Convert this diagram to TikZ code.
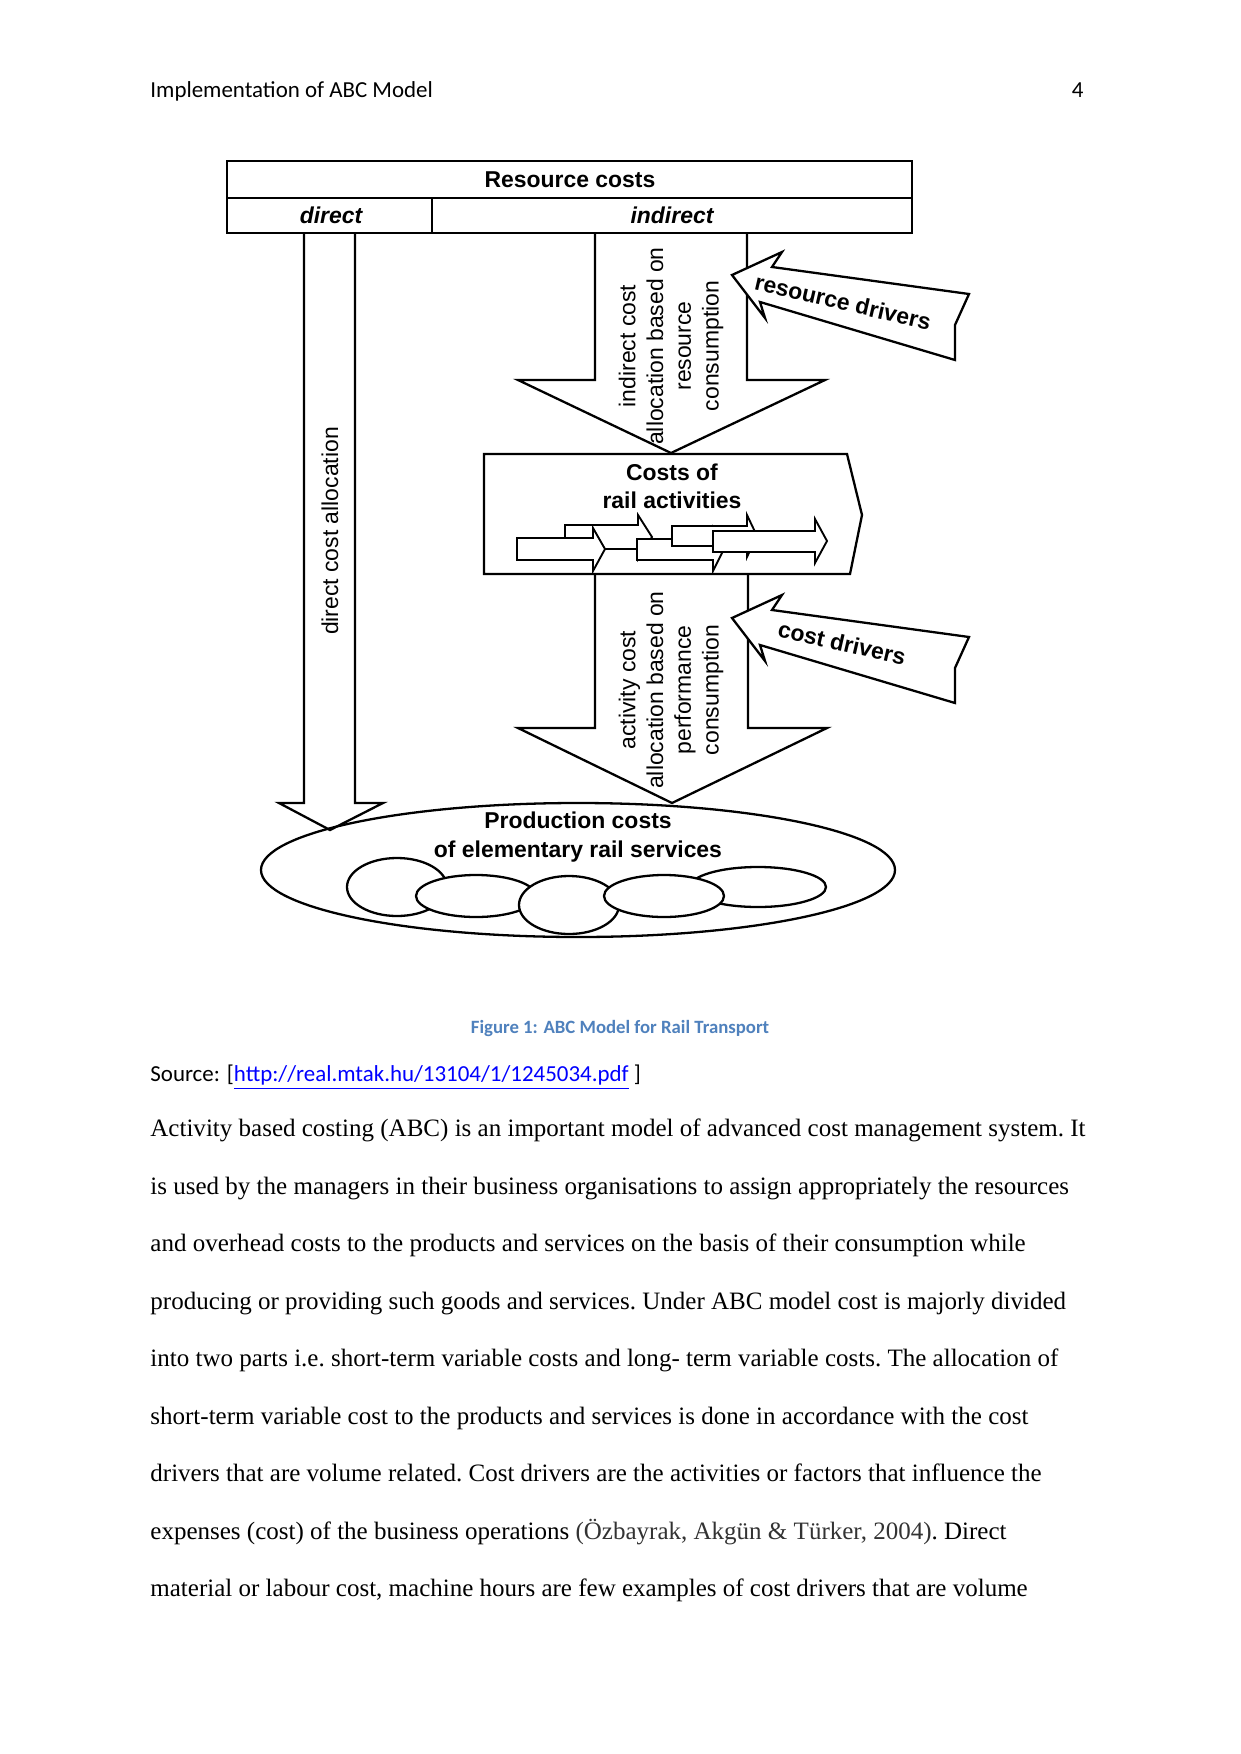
\documentclass[tikz,border=0pt]{standalone}
\usepackage{fontspec}
\setmainfont{Liberation Serif}
\newfontfamily\hdrfont{Carlito}
\newfontfamily\diafont{Liberation Sans}
\usetikzlibrary{positioning}
\definecolor{captionblue}{HTML}{4F81BD}
\definecolor{linkblue}{HTML}{0000FF}
\definecolor{citegray}{HTML}{333333}

\begin{document}
\begin{tikzpicture}[x=0.4797pt, y=-0.4797pt,
  blockline/.style={draw=black, line width=1.1pt, line join=miter},
  smallarrow/.style={draw=black, fill=white, line width=0.9pt},
  boxlabel/.style={font=\diafont\fontsize{11}{13}\selectfont\bfseries, inner sep=0pt},
  flowlabel/.style={font=\diafont\fontsize{11}{13.3}\selectfont, align=center, rotate=90, inner sep=0pt},
  drivertext/.style={font=\diafont\fontsize{11}{13}\selectfont\bfseries, rotate=-13, inner sep=0pt},
  bodyline/.style={anchor=base west, inner sep=0pt, font=\fontsize{12}{14}\selectfont\frenchspacing}]

\path[use as bounding box, fill=white] (0,0) rectangle (1241,1754);

% Page header
\node[anchor=base west, inner sep=0pt, font=\hdrfont\fontsize{11}{13}\selectfont] (header) at (150,97.5) {Implementation of ABC Model};
\node[anchor=base east, inner sep=0pt, font=\hdrfont\fontsize{11}{13}\selectfont] (pagenum) at (1084,97.5) {4};

% Resource costs table
\draw[blockline] (227,161) rectangle (912,233);
\draw[blockline] (227,198) -- (912,198);
\draw[blockline] (432,198) -- (432,233);
\node[boxlabel] (rescost) at (570,180) {Resource costs};
\node[boxlabel, font=\diafont\fontsize{11}{13}\selectfont\bfseries\itshape] (direct) at (331,215) {direct};
\node[boxlabel, font=\diafont\fontsize{11}{13}\selectfont\bfseries\itshape] (indirect) at (672,215) {indirect};

% Direct cost arrow
\draw[blockline] (304,233) -- (304,803) -- (279,803) -- (330,830) -- (383,803) -- (355,803) -- (355,233);
\node[flowlabel] (directlbl) at (330,531) {direct cost allocation};

% Indirect cost arrows
\draw[blockline] (595,233) -- (595,380) -- (518,380) -- (671,453) -- (825,380) -- (747,380) -- (747,233);
\draw[blockline] (595,574) -- (595,728) -- (518,728) -- (672,803) -- (827,728) -- (748,728) -- (748,574);

% Costs of rail activities
\draw[blockline, fill=white] (484,454) -- (847,454) -- (862,515) -- (850,574) -- (484,574) -- cycle;
\node[boxlabel, align=center, font=\diafont\fontsize{11}{13.5}\selectfont\bfseries] (railact) at (672,486) {Costs of\\rail activities};
\draw[smallarrow] (565,525) -- (638,525) -- (638,515) -- (652,537) -- (638,559) -- (638,549) -- (565,549) -- cycle;
\draw[smallarrow] (517,538) -- (593,538) -- (593,528) -- (605,549) -- (593,571) -- (593,560) -- (517,560) -- cycle;
\draw[smallarrow] (637,539) -- (713,539) -- (713,528) -- (724,549) -- (713,571) -- (713,560) -- (637,560) -- cycle;
\draw[smallarrow] (672,526) -- (747,526) -- (747,515) -- (757,536) -- (747,557) -- (747,546) -- (672,546) -- cycle;
\draw[smallarrow] (713,531) -- (815,531) -- (815,519) -- (827,541) -- (815,563) -- (815,552) -- (713,552) -- cycle;

% Production costs
\draw[blockline] (578,870) ellipse [x radius=317, y radius=67];
\draw[smallarrow, line width=1.1pt] (397,887) ellipse [x radius=50, y radius=29];
\draw[smallarrow, line width=1.1pt] (476,896) ellipse [x radius=60, y radius=21];
\draw[smallarrow, line width=1.1pt] (569,905) ellipse [x radius=50, y radius=29];
\draw[smallarrow, line width=1.1pt] (758,887) ellipse [x radius=68, y radius=20];
\draw[smallarrow, line width=1.1pt] (664,896) ellipse [x radius=60, y radius=21];
\node[boxlabel, align=center, font=\diafont\fontsize{11}{13.8}\selectfont\bfseries] (prodcost) at (578,837) {Production costs\\of elementary rail services};

% Driver arrows
\draw[blockline, fill=white] (732,275) -- (782,252) -- (772,267) -- (969,294) -- (955,325) -- (955,360) -- (760,302) -- (765,318) -- cycle;
\draw[blockline, fill=white] (732,618) -- (782,595) -- (772,610) -- (969,637) -- (955,668) -- (955,703) -- (760,645) -- (765,661) -- cycle;
\node[drivertext] (resdrv) at (843,302) {resource drivers};
\node[drivertext] (costdrv) at (842,643) {cost drivers};

% Allocation labels
\node[flowlabel] (indirectlbl) at (671,346) {indirect cost\\allocation based on\\resource\\consumption};
\node[flowlabel] (activitylbl) at (671,690) {activity cost\\allocation based on\\performance\\consumption};

% Caption and source
\node[anchor=base, inner sep=0pt, font=\hdrfont\fontsize{9}{11}\selectfont\bfseries, text=captionblue] (caption) at (620,1033.5) {Figure 1: ABC Model for Rail Transport};
\node[anchor=base west, inner sep=0pt, font=\hdrfont\fontsize{11}{13}\selectfont] (source) at (150,1081.5) {Source: [\textcolor{linkblue}{\underline{http://real.mtak.hu/13104/1/1245034.pdf}} ]};

% Body text
\node[bodyline] (line1) at (150,1136.5) {Activity based costing (ABC) is an important model of advanced cost management system. It};
\node[bodyline] (line2) at (150,1194) {is used by the managers in their business organisations to assign appropriately the resources};
\node[bodyline] (line3) at (150,1251.5) {and overhead costs to the products and services on the basis of their consumption while};
\node[bodyline] (line4) at (150,1309) {producing or providing such goods and services. Under ABC model cost is majorly divided};
\node[bodyline] (line5) at (150,1366.5) {into two parts i.e. short-term variable costs and long- term variable costs. The allocation of};
\node[bodyline] (line6) at (150,1424) {short-term variable cost to the products and services is done in accordance with the cost};
\node[bodyline] (line7) at (150,1481.5) {drivers that are volume related. Cost drivers are the activities or factors that influence the};
\node[bodyline] (line8) at (150,1539) {expenses (cost) of the business operations \textcolor{citegray}{(Özbayrak, Akgün \& Türker, 2004)}. Direct};
\node[bodyline] (line9) at (150,1596.5) {material or labour cost, machine hours are few examples of cost drivers that are volume};
\end{tikzpicture}
\end{document}
